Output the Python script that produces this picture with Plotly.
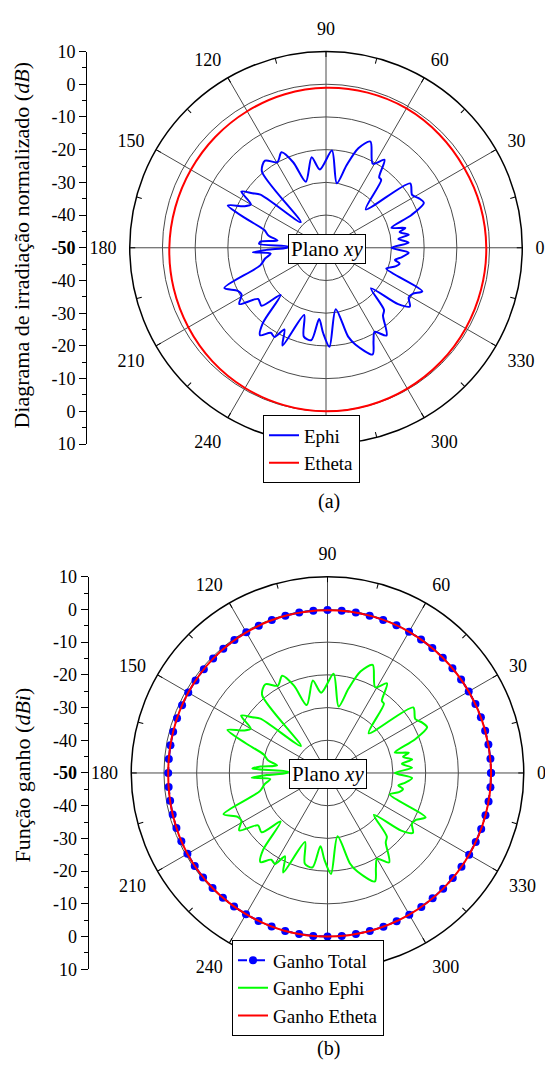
import plotly.graph_objects as go

# ---------------- data ----------------
ang_ticks = [0, 30, 60, 90, 120, 150, 180, 210, 240, 270, 300, 330]
ang_labels = ["0", "30", "60", "90", "120", "150", "180", "210", "240", "", "300", "330"]
ang_all_ticks = [0, 15, 30, 45, 60, 75, 90, 105, 120, 135, 150, 165, 180, 195, 210, 225, 240, 255, 270,
                 285, 300, 315, 330, 345]
ang_blank_labels = [""] * 24

# radial scale on the left rule: distance from the centre, labelled in dB
rule_pos = [-60, -50, -40, -30, -20, -10, 0, 10, 20, 30, 40, 50, 60]
rule_labels = ["10", "0", "-10", "-20", "-30", "-40", "<b>-50</b>", "-40", "-30", "-20", "-10", "0", "10"]
rule_minor = [-55, -45, -35, -25, -15, -5, 5, 15, 25, 35, 45, 55]

# (a) normalised pattern, xy plane
ephi_theta = [0, 3.5, 7, 9, 12, 14, 17, 21, 24.6, 28, 31.6, 37.4, 44, 50.8, 53, 56.4, 60.9, 67.3, 72, 76,
              80.5, 86.5, 94.5, 99, 107, 111, 115, 119.6, 125, 130, 134.6, 141, 143.5, 146.4, 150, 153,
              156.7, 160, 164, 168, 171.5, 174.5, 176.7, 178, 180, 182, 183.5, 186, 190, 195, 201.6, 206,
              209, 213, 217, 222, 226, 230, 233, 237, 240, 243, 246, 252, 256, 261, 264.5, 268, 272, 279,
              284, 287, 293.6, 297, 300, 304.6, 310, 313, 318, 322, 325, 329, 332, 335.7, 341, 345, 348,
              350, 353, 356.6, 360]
ephi_norm = [-30, -24.7, -27.7, -24.4, -27, -25, -29.1, -22, -17.1, -17.8, -19.1, -17.6, -33.1, -23.3, -23,
             -17.7, -20.6, -14.8, -18, -24, -30, -20.2, -26, -22, -28.9, -22, -17.8, -19.9, -17.5, -19.5,
             -39, -24.2, -22, -18.9, -23.5, -22, -17.3, -24, -30.4, -32, -35, -30, -29.5, -38.5, -38, -32,
             -27.6, -33, -31.1, -29.2, -16.6, -20, -20.5, -18.4, -24, -23.5, -30, -20, -16.5, -19, -18.5,
             -22, -17.3, -28.4, -22, -21.4, -28.1, -24, -19.7, -31, -22, -19, -14.4, -18, -20.3, -17.4,
             -22.9, -24, -31.5, -22, -18.7, -20.5, -20, -17.7, -30.5, -28, -27, -28.6, -26.6, -24.7, -30]

etheta_theta = [0, 15, 30, 45, 60, 75, 90, 105, 120, 135, 150, 165, 180, 195, 210, 225, 240, 255, 270,
                285, 300, 315, 330, 345, 360]
etheta_norm = [-1.0, -1.1, -1.2, -1.0, -0.8, -0.9, -1.1, -1.4, -1.8, -2.1, -2.3, -2.3, -2.1, -1.8, -1.4,
               -0.9, -0.5, -0.2, 0.0, -0.1, -0.3, -0.5, -0.7, -0.9, -1.0]

# (b) gain, xy plane
ganho_ephi = [-29.4, -24.1, -27.1, -23.8, -26.4, -24.4, -28.5, -21.4, -16.5, -17.2, -18.5, -17.0, -32.5,
              -22.7, -22.4, -17.1, -20.0, -14.2, -17.4, -23.4, -29.4, -19.6, -25.4, -21.4, -28.3, -21.4,
              -17.2, -19.3, -16.9, -18.9, -38.4, -23.6, -21.4, -18.3, -22.9, -21.4, -16.7, -23.4, -29.8,
              -31.4, -34.4, -29.4, -27.0, -37.9, -37.4, -31.4, -26.8, -32.4, -30.5, -28.6, -15.8, -19.4,
              -19.9, -17.8, -23.4, -22.9, -29.4, -19.4, -15.9, -18.4, -17.9, -21.4, -16.7, -27.8, -21.4,
              -20.8, -27.5, -23.4, -19.1, -30.4, -21.4, -18.4, -13.8, -17.4, -19.7, -16.8, -22.3, -23.4,
              -30.9, -21.4, -18.1, -19.9, -19.4, -17.1, -29.9, -27.4, -26.4, -28.0, -26.0, -24.1, -29.4]

ganho_etheta = [0.0, -0.1, -0.15, -0.15, -0.15, -0.2, -0.25, -0.25, -0.35, -0.55, -0.85, -1.15, -1.3,
                -1.0, -0.55, -0.3, -0.15, 0.0, 0.0, 0.0, 0.0, 0.0, 0.0, 0.0, 0.0]

total_theta = [0, 5, 10, 15, 20, 25, 30, 35, 40, 45, 50, 55, 60, 65, 70, 75, 80, 85, 90, 95, 100, 105,
               110, 115, 120, 125, 130, 135, 140, 145, 150, 155, 160, 165, 170, 175, 180, 185, 190, 195,
               200, 205, 210, 215, 220, 225, 230, 235, 240, 245, 250, 255, 260, 265, 270, 275, 280, 285,
               290, 295, 300, 305, 310, 315, 320, 325, 330, 335, 340, 345, 350, 355, 360]
ganho_total = [0.0, 0.0, -0.05, -0.1, -0.1, -0.1, -0.15, -0.15, -0.15, -0.15, -0.15, -0.15, -0.15, -0.15,
               -0.2, -0.2, -0.2, -0.2, -0.2, -0.2, -0.2, -0.25, -0.25, -0.3, -0.35, -0.4, -0.45, -0.55,
               -0.65, -0.75, -0.85, -0.95, -1.05, -1.15, -1.25, -1.3, -1.3, -1.25, -1.15, -1.0, -0.85, -0.7,
               -0.55, -0.45, -0.35, -0.3, -0.25, -0.2, -0.15, -0.1, -0.05, 0.0, 0.0, 0.0, 0.0, 0.0, 0.0,
               0.0, 0.0, 0.0, 0.0, 0.0, 0.0, 0.0, 0.0, 0.0, 0.0, 0.0, 0.0, 0.0, 0.0, 0.0, 0.0]

# ---------------- styling ----------------
W, H = 545, 1071
SERIF = "Liberation Serif, Times New Roman, Times, serif"
BLACK = "#000000"
GRID = "#4a4a4a"


def px_x(x):
    return x / W


def px_y(y):
    return 1 - y / H


# plot circles: centre (px) and radius (px)
CA = (326.0, 242.3)
CB = (327.5, 777.5)
R = 200.0


def dom(c):
    return dict(x=[px_x(c[0] - R), px_x(c[0] + R)], y=[px_y(c[1] + R), px_y(c[1] - R)])


fig = go.Figure()

# (a)
fig.add_trace(go.Scatterpolar(r=ephi_norm, theta=ephi_theta, mode="lines", name="Ephi",
                              line=dict(color="#0000ff", width=2, shape="spline", smoothing=0.8),
                              subplot="polar", legend="legend"))
fig.add_trace(go.Scatterpolar(r=etheta_norm, theta=etheta_theta, mode="lines", name="Etheta",
                              line=dict(color="#ff0000", width=2, shape="spline", smoothing=1.0),
                              subplot="polar", legend="legend"))

# (b)
fig.add_trace(go.Scatterpolar(r=ganho_total, theta=total_theta, mode="lines+markers", name="Ganho Total",
                              line=dict(color="#0000ff", width=2, dash="dash"),
                              marker=dict(color="#0000ff", size=8),
                              subplot="polar2", legend="legend2"))
fig.add_trace(go.Scatterpolar(r=ganho_ephi, theta=ephi_theta, mode="lines", name="Ganho Ephi",
                              line=dict(color="#00ff00", width=2, shape="spline", smoothing=0.8),
                              subplot="polar2", legend="legend2"))
fig.add_trace(go.Scatterpolar(r=ganho_etheta, theta=etheta_theta, mode="lines", name="Ganho Etheta",
                              line=dict(color="#ff0000", width=2, shape="spline", smoothing=1.0),
                              subplot="polar2", legend="legend2"))

# empty traces so the tick overlays and the left rules are laid out
for sp in ("polar3", "polar4"):
    fig.add_trace(go.Scatterpolar(r=[], theta=[], subplot=sp, showlegend=False, hoverinfo="skip"))
fig.add_trace(go.Scatter(x=[], y=[], xaxis="x", yaxis="y", showlegend=False))
fig.add_trace(go.Scatter(x=[], y=[], xaxis="x", yaxis="y2", showlegend=False))


def main_polar(c):
    # outside ticks are transparent: they only push the angle labels away from the rim
    return dict(
        domain=dom(c),
        bgcolor="white",
        radialaxis=dict(range=[-50, 10], tickvals=[-40, -30, -20, -10, 0], showticklabels=False,
                        ticks="", showline=False, gridcolor=GRID, gridwidth=1),
        angularaxis=dict(direction="counterclockwise", rotation=0, tickvals=ang_ticks, ticktext=ang_labels,
                         tickfont=dict(family=SERIF, size=18, color=BLACK), gridcolor=GRID, gridwidth=1,
                         showline=True, linecolor=BLACK, linewidth=1.5, ticks="outside", ticklen=9,
                         tickwidth=1, tickcolor="rgba(0,0,0,0)"),
    )


def tick_polar(c):
    # short inward ticks on the rim every 15 degrees
    return dict(
        domain=dom(c),
        bgcolor="rgba(0,0,0,0)",
        radialaxis=dict(visible=False, range=[-50, 10]),
        angularaxis=dict(direction="counterclockwise", rotation=0, tickvals=ang_all_ticks,
                         ticktext=ang_blank_labels, showgrid=False, showline=False, ticks="inside",
                         ticklen=5, tickwidth=1.3, tickcolor=BLACK),
    )


def rule(c, pos):
    return dict(
        domain=[px_y(c[1] + R), px_y(c[1] - R)], range=[-60, 60], anchor="free", position=pos,
        tickvals=rule_pos, ticktext=rule_labels, ticks="outside", ticklen=7, tickwidth=1,
        tickcolor=BLACK, showline=True, linecolor=BLACK, linewidth=1, showgrid=False, zeroline=False,
        tickfont=dict(family=SERIF, size=18, color=BLACK),
        minor=dict(tickvals=rule_minor, ticks="outside", ticklen=4, tickwidth=1, tickcolor=BLACK,
                   showgrid=False),
    )


legend_style = dict(bgcolor="white", bordercolor=BLACK, borderwidth=1, xanchor="left", yanchor="top",
                    font=dict(family=SERIF, size=19, color=BLACK), tracegroupgap=0,
                    entrywidthmode="pixels")

fig.update_layout(
    width=W, height=H, margin=dict(l=0, r=0, t=0, b=0), paper_bgcolor="white", plot_bgcolor="white",
    font=dict(family=SERIF, color=BLACK),
    polar=main_polar(CA), polar2=main_polar(CB), polar3=tick_polar(CA), polar4=tick_polar(CB),
    xaxis=dict(visible=False, domain=[0, 1], range=[0, 1]),
    yaxis=rule(CA, px_x(86)),
    yaxis2=rule(CB, px_x(87.5)),
    legend=dict(x=px_x(263), y=px_y(413), entrywidth=88, **legend_style),
    legend2=dict(x=px_x(232), y=px_y(948), entrywidth=145, **legend_style),
    showlegend=True,
)

annotations = [
    dict(x=px_x(22), y=px_y(240), text="Diagrama de irradiação normalizado (<i>dB</i>)", textangle=-90,
         font=dict(size=22)),
    dict(x=px_x(22), y=px_y(780), text="Função ganho (<i>dBi</i>)", textangle=-90, font=dict(size=22)),
    dict(x=px_x(326.5), y=px_y(244), text="Plano <i>xy</i>", bgcolor="white", bordercolor=BLACK,
         borderwidth=1, borderpad=2, font=dict(size=21)),
    dict(x=px_x(327.5), y=px_y(779), text="Plano <i>xy</i>", bgcolor="white", bordercolor=BLACK,
         borderwidth=1, borderpad=2, font=dict(size=21)),
    dict(x=px_x(328.5), y=px_y(501), text="(a)", font=dict(size=20)),
    dict(x=px_x(328), y=px_y(1058), text="(b)", font=dict(size=20)),
]
for a in annotations:
    a.update(xref="paper", yref="paper", showarrow=False, xanchor="center", yanchor="middle")
    a["font"] = dict(family=SERIF, color=BLACK, **a["font"])
fig.update_layout(annotations=annotations)

fig.write_html("out.html")
